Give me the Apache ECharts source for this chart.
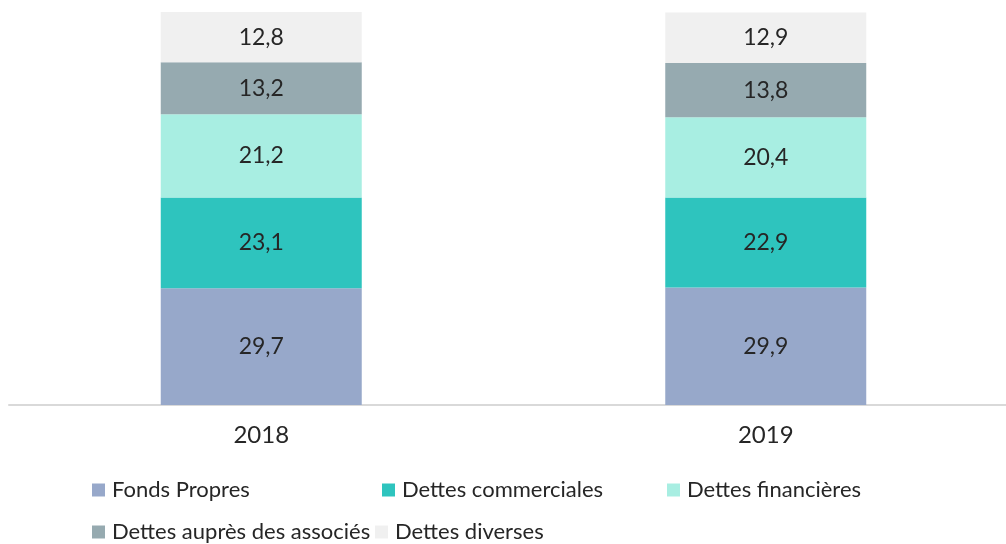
<!DOCTYPE html>
<html>
<head>
<meta charset="utf-8">
<script src="https://cdn.jsdelivr.net/npm/echarts@6/dist/echarts.min.js"></script>
<style>
  html, body { margin: 0; padding: 0; background: #fff; }
  #chart { width: 1006px; height: 544px; }
</style>
</head>
<body>
<div id="chart"></div>
<script>
// données
var years = ['2018', '2019'];
var seriesNames = ['Fonds Propres', 'Dettes commerciales', 'Dettes financières', 'Dettes auprès des associés', 'Dettes diverses'];
var fondsPropres = [29.7, 29.9];
var dettesCommerciales = [23.1, 22.9];
var dettesFinancieres = [21.2, 20.4];
var dettesAssocies = [13.2, 13.8];
var dettesDiverses = [12.8, 12.9];

var values = [fondsPropres, dettesCommerciales, dettesFinancieres, dettesAssocies, dettesDiverses];
var colors = ['#97a8ca', '#2ec4be', '#a8eee2', '#96aab0', '#f0f0f0'];
var font = 'Lato, "Open Sans", sans-serif';

var myChart = echarts.init(document.getElementById('chart'));

var series = seriesNames.map(function (name, i) {
    return {
        name: name,
        type: 'bar',
        stack: 'total',
        barWidth: 201,
        data: values[i],
        itemStyle: { color: colors[i] },
        label: {
            show: true,
            position: 'inside',
            color: '#262626',
            fontSize: 23,
            fontFamily: font,
            formatter: function (p) {
                return String(p.value).replace('.', ',');
            }
        }
    };
});

// une légende par élément pour placer les colonnes
var legendPos = [[87, 474], [377, 474], [662, 474], [87, 516], [370, 516]];
var legends = seriesNames.map(function (name, i) {
    return {
        data: [name],
        left: legendPos[i][0],
        top: legendPos[i][1],
        icon: 'rect',
        itemWidth: 13,
        itemHeight: 13,
        itemGap: 0,
        textStyle: { color: '#262626', fontSize: 22, fontFamily: font, padding: [0, 0, 0, 2] }
    };
});

var option = {
    backgroundColor: '#fff',
    animation: false,
    grid: { left: 9, top: 12, bottom: 139, width: 1009, outerBoundsMode: 'none', containLabel: false },
    xAxis: {
        type: 'category',
        data: years,
        axisTick: { show: false },
        axisLine: { lineStyle: { color: '#d9d9d9', width: 2 } },
        axisLabel: { color: '#262626', fontSize: 24, fontFamily: font, margin: 18 }
    },
    yAxis: {
        type: 'value',
        min: 0,
        max: 100,
        show: false
    },
    legend: legends,
    series: series
};

myChart.setOption(option);
</script>
</body>
</html>
